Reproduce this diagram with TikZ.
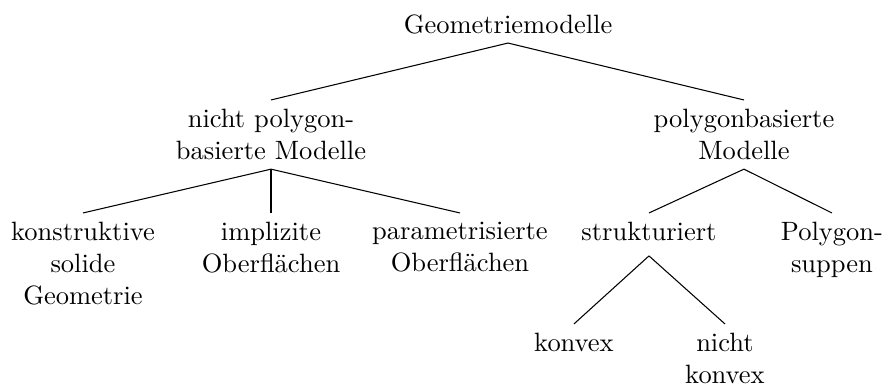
\documentclass[tikz,border=0pt]{standalone}
\usepackage{fontspec}
\usepackage{tikz}
\usetikzlibrary{positioning}

\tikzset{modell/.style={anchor=north,align=center}}

\begin{document}
\begin{tikzpicture}
\useasboundingbox (0,0) rectangle (11.793,5.107);
\node[modell] (root) at (6.739,5.04) {Geometriemodelle};
\node[modell] (nichtpoly) at (3.595,3.781) {nicht polygon-\\basierte Modelle};
\node[modell] (polybas) at (9.869,3.781) {polygonbasierte\\Modelle};
\node[modell] (konstr) at (1.101,2.282) {konstruktive\\solide\\Geometrie};
\node[modell] (impl) at (3.595,2.282) {implizite\\Oberflächen};
\node[modell] (param) at (6.102,2.282) {parametrisierte\\Oberflächen};
\node[modell,text depth=2.2pt] (strukt) at (8.609,2.282) {strukturiert};
\node[modell] (suppen) at (11.036,2.282) {Polygon-\\suppen};
\node[modell] (konvex) at (7.614,0.81) {konvex};
\node[modell] (nkonvex) at (9.617,0.81) {nicht\\konvex};
\foreach \a/\b in {root/nichtpoly,root/polybas,nichtpoly/konstr,nichtpoly/impl,
  nichtpoly/param,polybas/strukt,polybas/suppen,strukt/konvex,strukt/nkonvex}{
  \draw (\a.south) -- (\b.north);
}
\end{tikzpicture}
\end{document}
